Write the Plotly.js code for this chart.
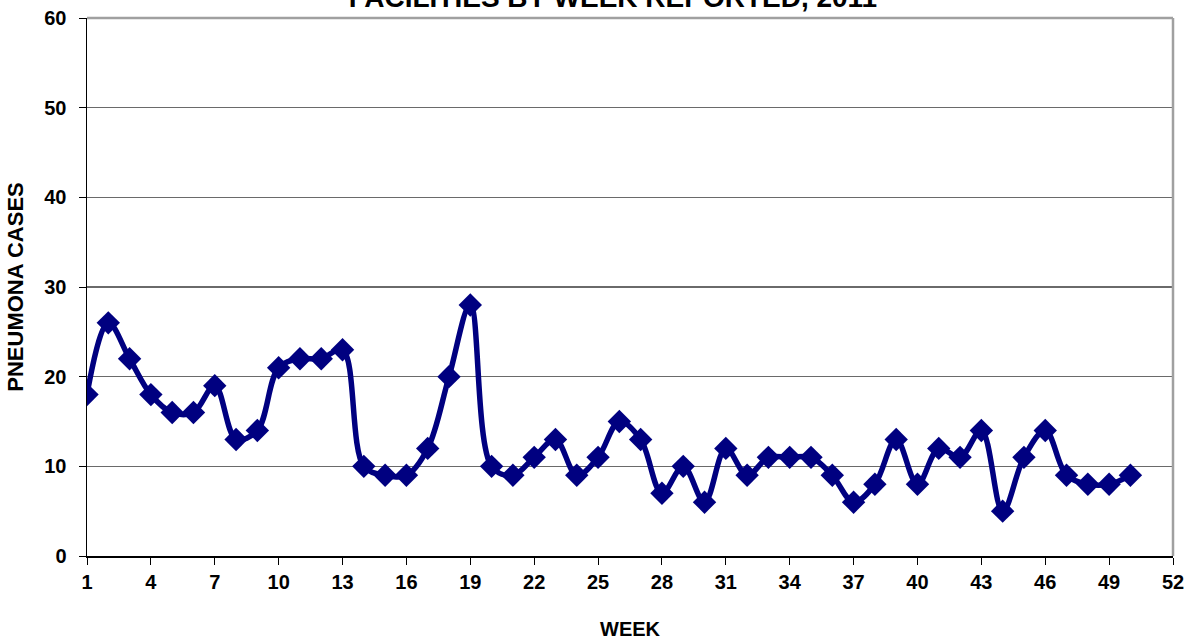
<!DOCTYPE html>
<html>
<head>
<meta charset="utf-8">
<script src="https://cdn.plot.ly/plotly-3.0.1.min.js"></script>
<style>html,body{margin:0;padding:0;background:#fff;}#chart{width:1196px;height:642px;}</style>
</head>
<body>
<div id="chart"></div>
<script>
const weeks = [1,2,3,4,5,6,7,8,9,10,11,12,13,14,15,16,17,18,19,20,21,22,23,24,25,26,27,28,29,30,31,32,33,34,35,36,37,38,39,40,41,42,43,44,45,46,47,48,49,50];
const cases = [18,26,22,18,16,16,19,13,14,21,22,22,23,10,9,9,12,20,28,10,9,11,13,9,11,15,13,7,10,6,12,9,11,11,11,9,6,8,13,8,12,11,14,5,11,14,9,8,8,9];
const xTicks = [1,4,7,10,13,16,19,22,25,28,31,34,37,40,43,46,49,52];
const yTicks = [0,10,20,30,40,50,60];

const fam = 'Liberation Sans, Arial, sans-serif';

Plotly.newPlot('chart', [{
  x: weeks, y: cases, type: 'scatter', mode: 'lines+markers',
  line: {color: '#000080', width: 5.5, shape: 'spline', smoothing: 1},
  marker: {symbol: 'diamond', size: 18, color: '#000080'},
  hoverinfo: 'skip'
}], {
  width: 1196, height: 642,
  margin: {l: 87, r: 23, t: 18, b: 86},
  paper_bgcolor: '#fff', plot_bgcolor: '#fff',
  showlegend: false,
  font: {family: fam, color: '#000', size: 20},
  title: {text: '<b>FACILITIES BY WEEK REPORTED, 2011</b>', font: {family: fam, size: 28, color: '#000'},
          x: 0.5125, xanchor: 'center', xref: 'container', y: 1 - 7/642, yanchor: 'bottom', yref: 'container'},
  xaxis: {
    range: [1, 52], tickvals: xTicks, ticktext: xTicks.map(v => '<b>' + v + '</b>'),
    ticks: 'outside', ticklen: 7, tickcolor: '#000', tickwidth: 1,
    showline: true, linecolor: '#000', linewidth: 1.5, mirror: false,
    showgrid: false, zeroline: false, tickfont: {family: fam, size: 20, color: '#000'},
    title: {text: '<b>WEEK</b>', font: {family: fam, size: 20, color: '#000'}, standoff: 30}
  },
  yaxis: {
    range: [0, 60], tickvals: yTicks, ticktext: yTicks.map(v => '<b>' + v + '</b>'),
    ticks: 'outside', ticklen: 7, tickcolor: '#000', tickwidth: 1,
    ticklabelstandoff: 8,
    showline: true, linecolor: '#000', linewidth: 1.5,
    showgrid: true, gridcolor: '#6a6a6a', gridwidth: 1.5, zeroline: false,
    tickfont: {family: fam, size: 20, color: '#000'},
    title: {text: '<b>PNEUMONA CASES</b>', font: {family: fam, size: 22, color: '#000'}, standoff: 14}
  },
  shapes: [
    {type: 'line', xref: 'paper', yref: 'paper', x0: 1, x1: 1, y0: 0, y1: 1, line: {color: '#a0a0a0', width: 2.5}},
    {type: 'line', xref: 'paper', yref: 'paper', x0: 0, x1: 1, y0: 1, y1: 1, line: {color: '#a0a0a0', width: 2.5}}
  ]
}, {displayModeBar: false, staticPlot: true});
</script>
</body>
</html>
